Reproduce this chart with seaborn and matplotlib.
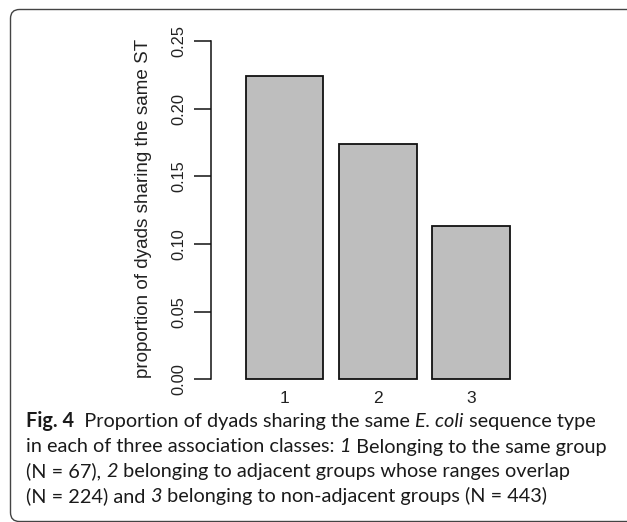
import matplotlib
matplotlib.use("Agg")
import matplotlib.pyplot as plt
import matplotlib.transforms as mtransforms
from matplotlib.patches import FancyBboxPatch
import seaborn as sns
import pandas as pd

# ---------------- data ----------------
categories = ["1", "2", "3"]
proportions = [0.224, 0.174, 0.113]
y_ticks = [0.00, 0.05, 0.10, 0.15, 0.20, 0.25]
y_tick_labels = ["0.00", "0.05", "0.10", "0.15", "0.20", "0.25"]
y_label = "proportion of dyads sharing the same ST"
# caption runs: (text, weight, style)
caption_lines = [
    [("Fig. 4", "bold", "normal"), ("  Proportion of dyads sharing the same ", "normal", "normal"),
     ("E. coli", "normal", "italic"), (" sequence type", "normal", "normal")],
    [("in each of three association classes: ", "normal", "normal"), ("1", "normal", "italic"),
     (" Belonging to the same group", "normal", "normal")],
    [("(N = 67), ", "normal", "normal"), ("2", "normal", "italic"),
     (" belonging to adjacent groups whose ranges overlap", "normal", "normal")],
    [("(N = 224) and ", "normal", "normal"), ("3", "normal", "italic"),
     (" belonging to non-adjacent groups (N = 443)", "normal", "normal")],
]

# ---------------- layout ----------------
W, H = 627, 522
sns.set_theme(style="white")
plt.rcParams["font.family"] = ["Liberation Sans", "DejaVu Sans"]

fig = plt.figure(figsize=(W / 100, H / 100), dpi=100)
renderer = fig.canvas.get_renderer()

ax_left, ax_right = 211, 560
ax_top, ax_bottom = 28, 390
ax = fig.add_axes([ax_left / W, 1 - ax_bottom / H,
                   (ax_right - ax_left) / W, (ax_bottom - ax_top) / H])
ax.patch.set_alpha(0)

df = pd.DataFrame({"cls": categories, "p": proportions})
sns.barplot(data=df, x="cls", y="p", color="#bebebe", saturation=1,
            edgecolor="#111111", linewidth=1.3, width=0.833, ax=ax)

y0_px, y25_px = 379.3, 41.0
ppu = (y0_px - y25_px) / 0.25
ax.set_ylim(-(ax_bottom - y0_px) / ppu, 0.25 + (y25_px - ax_top) / ppu)
spacing, c1 = 93.2, 284.5
ax.set_xlim((ax_left - c1) / spacing, (ax_right - c1) / spacing)

for s in ["top", "right", "bottom"]:
    ax.spines[s].set_visible(False)
ax.spines["left"].set_bounds(0, 0.25)
ax.spines["left"].set_linewidth(1.1)
ax.spines["left"].set_color("#111111")

ax.set_yticks(y_ticks)
ax.set_yticklabels(y_tick_labels, rotation=90, va="center")
ax.tick_params(axis="y", left=True, length=12.5, width=1.1, pad=5.5,
               labelsize=11.8, color="#111111", labelcolor="#222222")
ax.tick_params(axis="x", bottom=False, length=0, pad=0.5, labelsize=12.6,
               labelcolor="#222222")
ax.set_xlabel("")
ax.set_ylabel(y_label, fontsize=13.6, color="#222222")
ax.yaxis.label.set_va("baseline")
ax.yaxis.label.set_ha("center")
ax_w = ax_right - ax_left
ax_h = ax_bottom - ax_top
ax.yaxis.set_label_coords((148 - ax_left) / ax_w, (ax_bottom - 208.5) / ax_h)

# ---------------- frame ----------------
frame = FancyBboxPatch((10.5, 0.5), 700, 512, boxstyle="round,pad=0,rounding_size=9",
                       transform=mtransforms.IdentityTransform(), fill=False,
                       edgecolor="#444444", linewidth=1.0)
fig.add_artist(frame)

# ---------------- caption ----------------
cap_family = ["Lato", "DejaVu Sans"]


def run_width(txt, size, weight, style):
    t1 = fig.text(0, 0, txt + "|", fontsize=size, family=cap_family, weight=weight, style=style)
    w1 = t1.get_window_extent(renderer).width
    t1.remove()
    t2 = fig.text(0, 0, "|", fontsize=size, family=cap_family, weight=weight, style=style)
    w2 = t2.get_window_extent(renderer).width
    t2.remove()
    return w1 - w2


cap_left = 26
targets = [586 - cap_left, 589 - cap_left, 578 - cap_left, 557 - cap_left]
base_size = 12.0
tot = sum(sum(run_width(t, base_size, w, s) for t, w, s in line) for line in caption_lines)
cap_size = base_size * sum(targets) / tot

baselines = [427, 452.5, 477, 502]
for line, yb in zip(caption_lines, baselines):
    x = cap_left
    for txt, weight, style in line:
        fig.text(x / W, 1 - yb / H, txt, fontsize=cap_size, family=cap_family,
                 weight=weight, style=style, ha="left", va="baseline", color="#1a1a1a")
        x += run_width(txt, cap_size, weight, style)

fig.savefig("out.png", dpi=100)
